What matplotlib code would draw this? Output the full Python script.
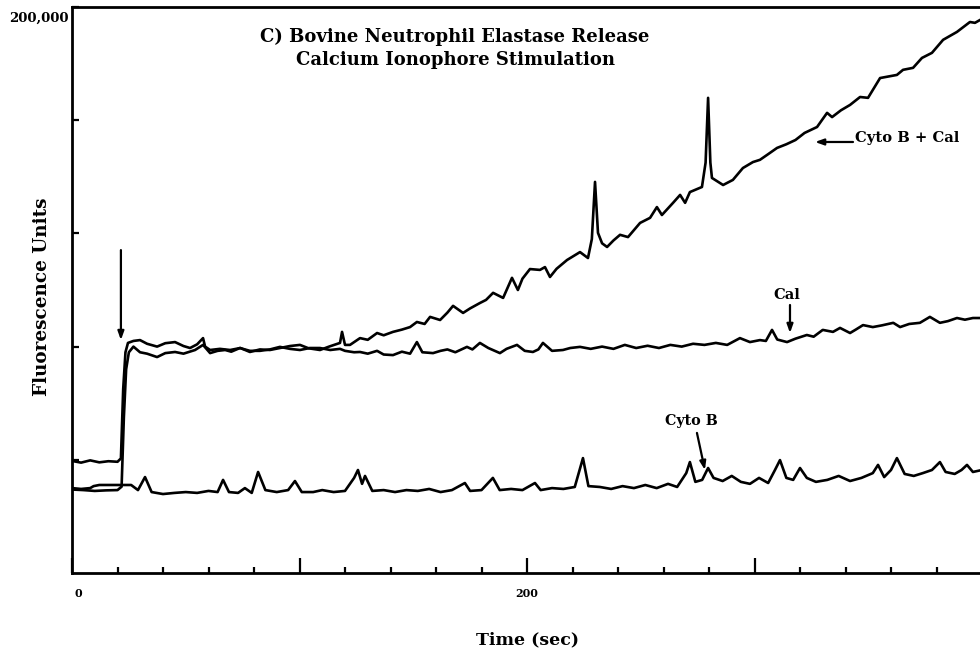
import numpy as np
import matplotlib
matplotlib.use("Agg")
import matplotlib.pyplot as plt

# ---------------- data (time in sec, fluorescence in thousands of units) -------------
cytob_cal_t = [0, 4, 8, 12, 16, 20, 21.5, 22.5, 23.5, 24.6, 27, 29.9, 33, 37.4, 41, 45.3, 49, 51.9,
               55, 57.6, 58.5, 60.7, 65, 69.5, 74, 78.2, 82.6, 87, 91.4, 95.8, 100.2, 104, 109, 113,
               117.8, 118.7, 120, 122.2, 126.6, 130, 134.1, 137, 141.1, 145, 148.6, 151.6, 155, 157.4,
               161.8, 165, 167.5, 171.9, 175, 179.3, 182, 185.1, 189.5, 193.4, 196.0, 198, 201.3, 205.7,
               207.9, 210.1, 213, 217.6, 223.3, 226.8, 228.5, 229.9, 231.2, 233, 235.2, 238, 240.9,
               244.4, 249.7, 254.1, 257.1, 259.3, 264.2, 267.3, 269.5, 271.6, 276.9, 278.5, 279.6,
               280.6, 281.3, 286.2, 290.5, 294.9, 299.3, 302.4, 306, 309.9, 314, 318, 322, 327.5,
               331.9, 334.1, 338, 342.0, 346.4, 349.9, 355.2, 362.6, 365.3, 369.7, 373.6, 378.0,
               382.9, 389.0, 394.7, 396.9, 399.1, 400]
cytob_cal_v = [39.6, 39.0, 39.8, 39.1, 39.5, 39.3, 40.5, 65, 78, 81.3, 82.0, 82.3, 81.0, 80.0, 81.2, 81.6,
               80.2, 79.5, 80.8, 83.0, 80.0, 78.8, 79.2, 78.8, 79.5, 78.1, 79.0, 78.8, 79.5, 80.2, 80.6,
               79.4, 78.8, 80.0, 81.3, 85.2, 80.6, 80.6, 83.0, 82.4, 84.8, 84.0, 85.2, 86.0, 86.9, 88.7,
               88.0, 90.5, 89.4, 92.0, 94.4, 91.9, 93.5, 95.4, 96.5, 99.0, 97.2, 104.3, 100.0, 104.0,
               107.4, 107.1, 108.1, 104.6, 107.5, 110.6, 113.4, 111.3, 118, 138.2, 120.2, 116.5, 115.2,
               117.5, 119.5, 118.7, 123.7, 125.5, 129.3, 126.5, 130.8, 133.6, 130.8, 134.6, 136.4, 145,
               167.9, 145, 139.6, 137.1, 138.9, 143.1, 145.2, 146.0, 148.0, 150.2, 151.5, 153.0, 155.5,
               157.6, 162.6, 161.1, 163.5, 165.4, 168.2, 167.9, 174.9, 176.0, 177.8, 178.5, 182.0,
               183.8, 188.4, 191.2, 194.7, 194.4, 195.4, 195.8]

cal_t = [0, 5, 10, 15, 20, 21.8, 22.8, 23.8, 25, 27, 29.9, 33, 37.4, 41, 45.3, 49, 54.1, 57.6, 60.7,
         64, 67.3, 70, 73.8, 78.2, 82.6, 87, 91.4, 95.8, 100.2, 104.5, 109.0, 113.5, 117.8, 120.0,
         124, 126.6, 130, 134.1, 137, 141.1, 145, 148.6, 151.6, 154, 158.7, 162, 165, 168.5, 173.6,
         176, 179.3, 183, 188.1, 191, 195.6, 199, 202.6, 205, 207.0, 211, 215.8, 219, 223.3, 228,
         233, 238, 243, 248, 253, 258, 263, 268, 273, 278, 283, 288, 293.6, 298, 302.4, 305, 307.7,
         310, 314.3, 318, 323, 326, 330, 334.5, 337.6, 342, 344.5, 347.7, 352, 356, 361, 364, 368,
         372.7, 377.1, 381.5, 385, 389, 392.5, 396, 400]
cal_v = [29.5, 29.3, 29.0, 29.2, 29.3, 30.5, 55, 72, 78, 80.0, 78.0, 77.5, 76.3, 77.7, 78.1, 77.5, 78.8,
         80.6, 77.7, 78.5, 78.8, 78.2, 79.5, 78.5, 78.5, 79.0, 79.9, 79.2, 78.8, 79.5, 79.5, 78.8, 79.2,
         78.5, 78.0, 78.1, 77.5, 78.5, 77.2, 77.0, 78.2, 77.5, 81.6, 78.0, 77.7, 78.5, 79.0, 78.0, 79.9,
         79.0, 81.3, 79.5, 77.7, 79.2, 80.6, 78.5, 78.1, 79.0, 81.3, 78.5, 78.8, 79.5, 79.9, 79.2, 80.0,
         79.2, 80.6, 79.5, 80.3, 79.5, 80.6, 80.0, 81.0, 80.6, 81.3, 80.6, 83.0, 81.6, 82.3, 82.0,
         85.9, 82.5, 81.6, 82.8, 84.1, 83.5, 85.9, 85.2, 86.6, 84.8, 86.0, 87.6, 86.9, 87.5, 88.4,
         86.9, 88.0, 88.4, 90.5, 88.4, 89.0, 90.1, 89.5, 90.1, 90.1]

cytob_t = [0, 4, 8, 9.5, 12, 16, 20, 22, 26, 29, 32.1, 35, 40, 45, 50, 55, 60, 64, 66.4, 69, 73, 76, 79,
           81.8, 85, 90, 95, 98, 101, 106, 110, 115, 120, 124, 125.7, 127.5, 128.8, 132, 137, 142, 147,
           152, 157, 162, 167, 172.7, 175, 180, 185, 188, 193, 198, 203.5, 206, 211, 216, 221, 224.6,
           227, 232, 237, 242, 247, 252, 257, 262, 266, 270, 271.6, 274, 277, 279.6, 282, 286, 290,
           294, 298, 302, 306, 309, 311.2, 314, 317, 320, 323, 327, 332, 337, 342, 347, 352, 354.3,
           357, 360, 362.6, 366, 370, 374, 378, 381.5, 384, 388, 391, 393.4, 396, 400]
cytob_v = [30.0, 29.7, 30.0, 30.7, 31.1, 31.1, 31.1, 31.1, 31.1, 29.3, 33.9, 28.6, 27.9, 28.3, 28.6,
           28.3, 29.0, 28.6, 32.9, 28.6, 28.3, 30.0, 28.3, 35.7, 29.3, 28.6, 29.3, 32.5, 28.6, 28.6,
           29.3, 28.6, 29.0, 33.6, 36.4, 31.5, 34.3, 29.0, 29.3, 28.6, 29.3, 29.0, 29.7, 28.6, 29.3,
           31.8, 29.0, 29.3, 33.6, 29.3, 29.7, 29.3, 31.8, 29.3, 30.0, 29.7, 30.4, 40.6, 30.7, 30.4,
           29.7, 30.7, 30.0, 31.1, 30.0, 31.5, 30.4, 35.3, 39.2, 32.2, 32.9, 37.1, 33.6, 32.5, 34.3,
           32.2, 31.5, 33.6, 31.8, 36.4, 39.9, 33.6, 32.9, 37.1, 33.6, 32.2, 32.9, 34.3, 32.5, 33.6,
           35.3, 38.2, 33.9, 36.4, 40.6, 35.0, 34.3, 35.3, 36.4, 39.2, 35.7, 35.0, 36.4, 38.2, 35.7,
           36.4]

title_lines = ["C) Bovine Neutrophil Elastase Release", "Calcium Ionophore Stimulation"]
x_label = "Time (sec)"
y_label = "Fluorescence Units"
x_ticks = [0, 100, 200, 300]
x_ticklabels = ["0", "", "200", ""]
y_ticks = [40000, 80000, 120000, 160000, 200000]
y_top_label = "200,000"

SCALE = 1000.0  # values above are in thousands

# ---------------- figure ----------------
SERIF = ["DejaVu Serif"]
plt.rcParams["font.family"] = SERIF
plt.rcParams["font.weight"] = "bold"

fig = plt.figure(figsize=(9.8, 6.59), dpi=100)
ax = fig.add_axes([72 / 980, 86 / 659, 910 / 980, 566 / 659])

lw = 1.9
for t, v in [(cytob_cal_t, cytob_cal_v), (cal_t, cal_v), (cytob_t, cytob_v)]:
    ax.plot(t, np.array(v) * SCALE, color="black", lw=lw, solid_joinstyle="round")

ax.set_xlim(0, 400)
ax.set_ylim(0, 200000)

for s in ["left", "bottom", "top"]:
    ax.spines[s].set_linewidth(2.0)
ax.spines["right"].set_visible(False)

ax.set_xticks(x_ticks)
ax.set_xticklabels([""] + x_ticklabels[1:], fontsize=8, fontweight="bold")
ax.set_xticks(np.arange(20, 400, 20), minor=True)
ax.tick_params(axis="x", which="major", direction="in", length=11, width=1.6, pad=11)
ax.tick_params(axis="x", which="minor", direction="in", length=4, width=1.6)
ax.set_yticks(y_ticks)
ax.set_yticklabels([])
ax.tick_params(axis="y", which="major", direction="in", length=5, width=1.6)

# "0" label sits slightly right of the origin in the original
ax.annotate(x_ticklabels[0], xy=(x_ticks[0], 0), xycoords=("data", "axes fraction"),
            xytext=(4.5, -14.5), textcoords="offset points", ha="center", va="center",
            fontsize=8, fontweight="bold")

ax.text(-0.004, 0.98, y_top_label, transform=ax.transAxes, ha="right", va="center",
        fontsize=9.5, fontweight="bold")

ax.text(0.421, 0.947, title_lines[0], transform=ax.transAxes, ha="center", va="center",
        fontsize=13, fontweight="bold")
ax.text(0.421, 0.906, title_lines[1], transform=ax.transAxes, ha="center", va="center",
        fontsize=13, fontweight="bold")

fig.text(42 / 980, 1 - 297 / 659, y_label, rotation=90, ha="center", va="center",
         fontsize=13.2, fontweight="bold")
fig.text(527 / 980, 1 - 640 / 659, x_label, ha="center", va="center",
         fontsize=12.5, fontweight="bold")

arrow_kw = dict(arrowstyle="-|>,head_length=0.5,head_width=0.18", color="black", lw=1.6,
                shrinkA=0, shrinkB=0)

# stimulation arrow
ax.annotate("", xy=(21.5, 82300), xytext=(21.5, 114100), arrowprops=arrow_kw)
# Cyto B + Cal
ax.annotate("", xy=(326.6, 152300), xytext=(343.3, 152300), arrowprops=arrow_kw)
ax.text(344.2, 153700, "Cyto B + Cal", ha="left", va="center", fontsize=10.6, fontweight="bold")
# Cal
ax.annotate("", xy=(315.6, 84800), xytext=(315.6, 94700), arrowprops=arrow_kw)
ax.text(314.3, 98200, "Cal", ha="center", va="center", fontsize=10.6, fontweight="bold")
# Cyto B
ax.annotate("", xy=(278.2, 36400), xytext=(274.7, 49500), arrowprops=arrow_kw)
ax.text(272.1, 53700, "Cyto B", ha="center", va="center", fontsize=10.3, fontweight="bold")

fig.savefig("out.png", dpi=100)
